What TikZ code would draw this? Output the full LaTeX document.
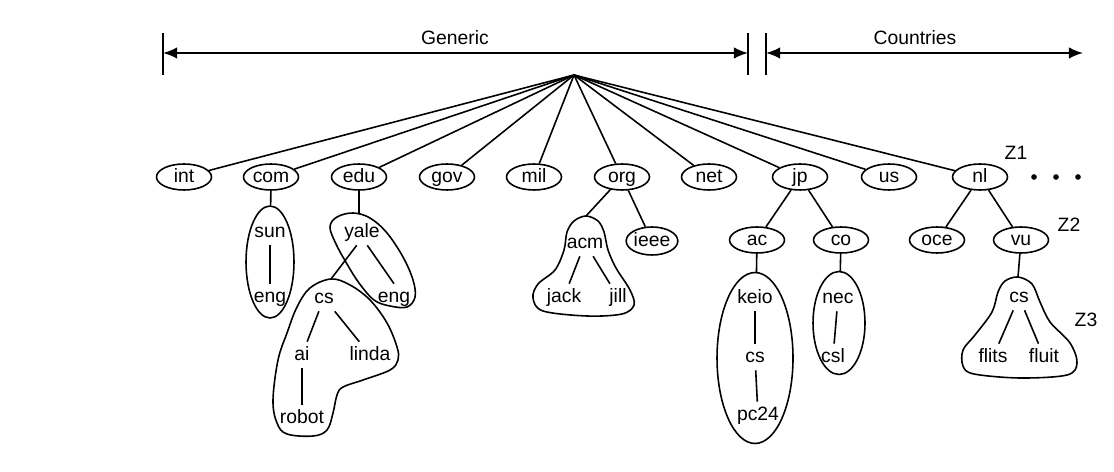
\documentclass[tikz,border=0pt]{standalone}
\usepackage{fontspec}
\setmainfont{Liberation Sans}
\usetikzlibrary{arrows.meta, shapes.geometric}

\tikzset{
  dom/.style={ellipse, draw, minimum width=1.1cm, minimum height=0.52cm, inner sep=0pt, text height=1.5ex, text depth=0.3ex},
  lbl/.style={inner sep=2.5pt, text height=1.5ex, text depth=0.25ex},
  zone/.style={ellipse, draw, inner sep=0pt},
  span/.style={line width=1pt, {Latex[length=8pt,width=6.5pt]}-{Latex[length=8pt,width=6.5pt]}},
}

\begin{document}
\begin{tikzpicture}[x=0.02cm, y=-0.02cm, font=\fontsize{11}{13}\selectfont, line width=0.9pt]
  \useasboundingbox (0,0) rectangle (1114,472);

  % Generic / Countries ranges
  \coordinate (gl) at (163,53);
  \coordinate (gr) at (748,53);
  \coordinate (cl) at (766,53);
  \coordinate (cr) at (1083,53);
  \foreach \c in {gl, gr, cl}
    \draw[line width=1pt] (\c) ++(0,-20) -- ++(0,42);
  \draw[span] (gl) -- (gr);
  \draw[span] (cl) -- (cr);
  \node (generic) at (455,38) {Generic};
  \node (countries) at (915,38) {Countries};

  % Root and top-level domains
  \coordinate (root) at (574,75);
  \foreach \n/\x in {int/184, com/271, edu/359, gov/447, mil/534, org/622, net/709, jp/800, us/889, nl/980}
    \node[dom] (\n) at (\x,177) {\n};
  \foreach \n in {int, com, edu, gov, mil, org, net, jp, us, nl}
    \draw (root) -- (\n);
  \foreach \x in {1034, 1056, 1078}
    \fill (\x,177) circle (1.6pt);
  \node (z1) at (1016,153) {Z1};

  % com
  \node[zone, minimum width=0.96cm, minimum height=2.24cm] (sunzone) at (270,262) {};
  \draw (com) -- (sunzone);
  \node[lbl] (sun) at (270,232) {sun};
  \node[lbl] (eng1) at (270,297) {eng};
  \draw (sun) -- (eng1);

  % edu
  \coordinate (yaletop) at (359,214);
  \draw plot[smooth cycle, tension=0.6] coordinates {(330,227) (337,217) (353,213) (370,218) (387,233) (403,257) (413,280) (415,297) (407,307) (390,306) (374,300) (359,283) (347,264) (336,244)};
  \draw (edu) -- (yaletop);
  \node[lbl] (yale) at (362,232) {yale};
  \node[lbl] (eng2) at (394,297) {eng};
  \draw ([xshift=3pt]yale.south) -- (eng2.north);
  \coordinate (cstop) at (331,279);
  \draw plot[smooth cycle, tension=0.6] coordinates {(331,279) (350,285) (370,300) (387,323) (397,347) (398,360) (390,370) (363,380) (343,387) (337,395) (333,413) (327,430) (313,436) (287,434) (277,423) (273,400) (278,360) (287,333) (297,307) (310,288)};
  \draw ([xshift=-3pt]yale.south) -- (cstop);
  \node[lbl] (cs1) at (324,298) {cs};
  \node[lbl] (ai) at (302,355) {ai};
  \node[lbl] (linda) at (370,355) {linda};
  \node[lbl] (robot) at (302,418) {robot};
  \draw (cs1) -- (ai);
  \draw (cs1) -- (linda);
  \draw (ai) -- (robot);

  % org
  \coordinate (acmtop) at (586,216);
  \draw plot[smooth cycle, tension=0.55] coordinates {(586,216) (574,221) (567,232) (564,250) (555,270) (538,284) (533,298) (543,311) (587,316) (622,314) (634,305) (630,290) (616,268) (608,250) (604,232) (598,221)};
  \draw (org) -- (acmtop);
  \node[dom, minimum width=0.95cm, minimum height=0.56cm] (ieee) at (652,241) {ieee};
  \draw (org) -- (ieee);
  \node[lbl] (acm) at (585,243) {acm};
  \node[lbl] (jack) at (564,297) {jack};
  \node[lbl] (jill) at (618,297) {jill};
  \draw (acm) -- (jack);
  \draw (acm) -- (jill);

  % jp
  \node[dom] (ac) at (757,240) {ac};
  \node[dom] (co) at (841,240) {co};
  \draw (jp) -- (ac);
  \draw (jp) -- (co);
  \node[zone, minimum width=1.52cm, minimum height=3.42cm] (keiozone) at (755,358) {};
  \draw (ac) -- (keiozone);
  \node[lbl] (keio) at (755,298) {keio};
  \node[lbl] (cs2) at (755,357) {cs};
  \node[lbl] (pc24) at (758,415) {pc24};
  \draw (keio) -- (cs2);
  \draw (cs2) -- (pc24);
  \node[zone, minimum width=1.04cm, minimum height=2.06cm] (neczone) at (839,323) {};
  \draw (co) -- (neczone);
  \node[lbl] (nec) at (838,298) {nec};
  \node[lbl] (csl) at (833,357) {csl};
  \draw (nec) -- (csl);

  % nl
  \node[dom] (oce) at (937,240) {oce};
  \node[dom] (vu) at (1021,240) {vu};
  \draw (nl) -- (oce);
  \draw (nl) -- (vu);
  \node (z2) at (1069,225) {Z2};
  \coordinate (vutop) at (1018,277);
  \draw plot[smooth cycle, tension=0.55] coordinates {(1018,277) (1005,281) (998,292) (992,312) (975,335) (963,350) (963,366) (974,374) (1020,378) (1067,375) (1077,363) (1070,343) (1050,322) (1040,302) (1032,284)};
  \draw (vu) -- (vutop);
  \node[lbl] (cs3) at (1019,297) {cs};
  \node[lbl] (flits) at (993,357) {flits};
  \node[lbl] (fluit) at (1044,357) {fluit};
  \draw (cs3) -- (flits);
  \draw (cs3) -- (fluit);
  \node (z3) at (1086,320) {Z3};
\end{tikzpicture}
\end{document}
